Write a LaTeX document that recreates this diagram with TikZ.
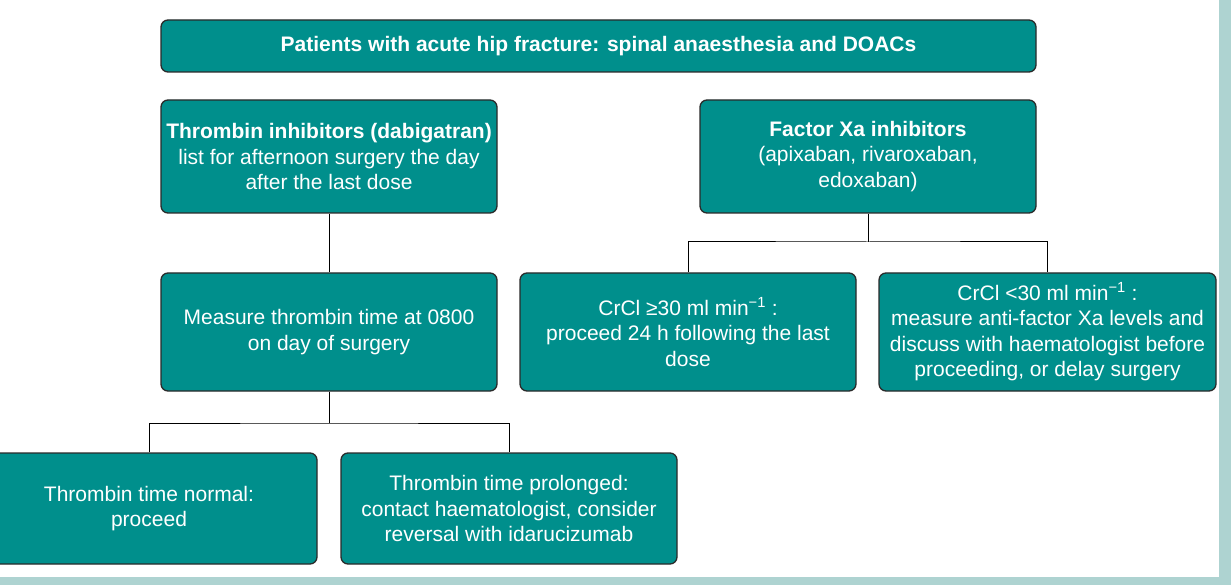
\documentclass[tikz,border=0pt]{standalone}
\usepackage{fontspec}
\setmainfont{Liberation Sans}
\definecolor{teal1}{HTML}{008F8C}
\definecolor{edge1}{HTML}{2B2B2B}
\definecolor{strip}{HTML}{AED3D1}
\tikzset{
  box/.style={draw=edge1, line width=1.3pt, fill=teal1, rounded corners=7pt, text=white, align=center,
    font=\fontsize{21}{25.5}\selectfont, inner sep=0pt},
  conn/.style={draw=black, line width=1pt}
}
\begin{document}
\begin{tikzpicture}[x=1pt,y=-1pt]
\useasboundingbox (0,0) rectangle (1231,585);
\fill[white] (0,0) rectangle (1231,585);
\fill[strip] (1219,0) rectangle (1231,585);
\fill[strip] (0,577) rectangle (1231,585);
% boxes
\node[box, minimum width=875pt, minimum height=52pt, font=\fontsize{21}{25.5}\selectfont\bfseries] (top) at (598.5,46) {Patients with acute hip fracture: spinal anaesthesia and DOACs};
\node[box, minimum width=336pt, minimum height=113pt] (thr) at (329,156.5) {\textbf{Thrombin inhibitors (dabigatran)}\\list for afternoon surgery the day\\after the last dose};
\node[box, minimum width=336pt, minimum height=113pt] (fxa) at (868,156.5) {\textbf{Factor Xa inhibitors}\\(apixaban, rivaroxaban,\\edoxaban)};
\node[box, minimum width=336pt, minimum height=118pt] (meas) at (329,332) {Measure thrombin time at 0800\\on day of surgery};
\node[box, minimum width=336pt, minimum height=118pt] (crhi) at (688,332) {CrCl ≥30 ml min\textsuperscript{−1} :\\proceed 24 h following the last\\dose};
\node[box, minimum width=337pt, minimum height=118pt] (crlo) at (1047.5,332) {CrCl <30 ml min\textsuperscript{−1} :\\measure anti-factor Xa levels and\\discuss with haematologist before\\proceeding, or delay surgery};
\node[box, minimum width=336pt, minimum height=111pt] (tnorm) at (149,508.5) {Thrombin time normal:\\proceed};
\node[box, minimum width=336pt, minimum height=111pt] (tprol) at (509,508.5) {Thrombin time prolonged:\\contact haematologist, consider\\reversal with idarucizumab};
% connectors
\draw[conn] (thr.south) -- (meas.north);
\coordinate (fxj) at (868,242);
\draw[conn] (fxa.south) -- (fxj);
\draw[conn] (crhi.north) |- (fxj) -| (crlo.north);
\coordinate (mj) at (329,423);
\draw[conn] (meas.south) -- (mj);
\draw[conn] (tnorm.north) |- (mj) -| (tprol.north);
\end{tikzpicture}
\end{document}
